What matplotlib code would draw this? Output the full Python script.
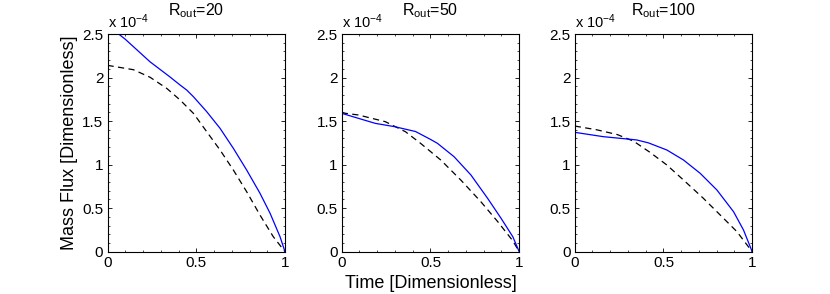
import matplotlib
matplotlib.use("Agg")
import matplotlib.pyplot as plt
from matplotlib.ticker import MultipleLocator

plt.rcParams['font.family'] = ['Liberation Sans', 'DejaVu Sans']
plt.rcParams['mathtext.fontset'] = 'custom'
plt.rcParams['mathtext.rm'] = 'Liberation Sans'
plt.rcParams['mathtext.it'] = 'Liberation Sans'

titles = ["20", "50", "100"]

# Panel 1 (R_out = 20), values in units of 1e-4
t1_blue = [0.0, 0.1, 0.24, 0.35, 0.409, 0.447, 0.484, 0.559, 0.634, 0.709, 0.784, 0.859, 0.916, 0.972, 1.0]
v1_blue = [2.60, 2.44, 2.18, 2.01, 1.914, 1.855, 1.78, 1.608, 1.417, 1.187, 0.938, 0.671, 0.441, 0.172, 0.0]
t1_dash = [0.0, 0.146, 0.24, 0.334, 0.409, 0.484, 0.559, 0.634, 0.709, 0.784, 0.859, 0.934, 1.0]
v1_dash = [2.14, 2.09, 2.003, 1.875, 1.742, 1.589, 1.378, 1.168, 0.938, 0.689, 0.421, 0.172, 0.0]

# Panel 2 (R_out = 50)
t2_blue = [0.0, 0.1, 0.189, 0.3, 0.416, 0.5, 0.539, 0.633, 0.728, 0.822, 0.898, 0.964, 1.0]
v2_blue = [1.589, 1.528, 1.474, 1.435, 1.38, 1.29, 1.245, 1.091, 0.881, 0.613, 0.383, 0.172, 0.0]
t2_dash = [0.0, 0.094, 0.246, 0.359, 0.444, 0.558, 0.671, 0.784, 0.879, 0.964, 1.0]
v2_dash = [1.595, 1.57, 1.493, 1.378, 1.245, 1.053, 0.823, 0.574, 0.345, 0.125, 0.0]

# Panel 3 (R_out = 100)
t3_blue = [0.0, 0.161, 0.312, 0.35, 0.415, 0.519, 0.613, 0.707, 0.801, 0.895, 0.951, 1.0]
v3_blue = [1.371, 1.321, 1.291, 1.283, 1.25, 1.168, 1.053, 0.90, 0.709, 0.459, 0.249, 0.0]
t3_dash = [0.0, 0.124, 0.24, 0.331, 0.425, 0.519, 0.613, 0.725, 0.82, 0.914, 1.0]
v3_dash = [1.443, 1.40, 1.345, 1.27, 1.14, 0.996, 0.823, 0.613, 0.421, 0.23, 0.0]

series = [(t1_blue, v1_blue, t1_dash, v1_dash),
          (t2_blue, v2_blue, t2_dash, v2_dash),
          (t3_blue, v3_blue, t3_dash, v3_dash)]

fig = plt.figure(figsize=(8.3, 2.94), dpi=100)
lefts = [107.5/830, 341.7/830, 574.7/830]
width = 177.5/830
bottom = 1 - 251.7/294
height = 217.7/294

for i, (tb, vb, td, vd) in enumerate(series):
    ax = fig.add_axes([lefts[i], bottom, width, height])
    ax.plot(td, vd, color='black', linestyle=(0, (5, 3.5)), linewidth=0.9)
    ax.plot(tb, vb, color='#0000ff', linewidth=0.9)
    ax.set_xlim(0, 1)
    ax.set_ylim(0, 2.5)
    ax.set_xticks([0, 0.5, 1])
    ax.set_xticklabels(['0', '0.5', '1'])
    ax.set_yticks([0, 0.5, 1, 1.5, 2, 2.5])
    ax.set_yticklabels(['0', '0.5', '1', '1.5', '2', '2.5'])
    ax.xaxis.set_minor_locator(MultipleLocator(0.1))
    ax.yaxis.set_minor_locator(MultipleLocator(0.1))
    ax.tick_params(which='both', direction='in', top=True, right=True, labelsize=11)
    ax.tick_params(which='major', length=3, width=0.6, pad=3)
    ax.tick_params(which='minor', length=1.5, width=0.5)
    for s in ax.spines.values():
        s.set_linewidth(0.8)
    ax.text(0.0, 1.028, r'x 10$^{-4}$', transform=ax.transAxes, fontsize=10.5,
            ha='left', va='baseline')
    ax.text(0.5, 1.087, r'R$_{\rm out}$=' + titles[i], transform=ax.transAxes,
            fontsize=11.5, ha='center', va='baseline')
    if i == 0:
        ax.set_ylabel('Mass Flux [Dimensionless]', fontsize=13, labelpad=3)
    if i == 1:
        ax.set_xlabel('Time [Dimensionless]', fontsize=13, labelpad=4)

fig.savefig('out.png', dpi=100)
